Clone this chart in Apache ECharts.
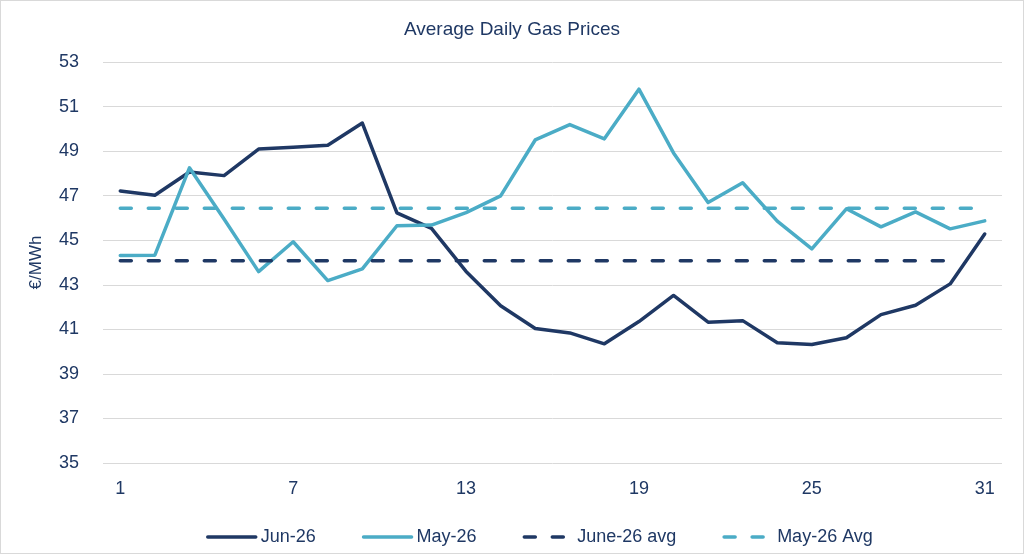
<!DOCTYPE html>
<html>
<head>
<meta charset="utf-8">
<script src="https://cdn.jsdelivr.net/npm/echarts@6/dist/echarts.min.js"></script>
<style>
html,body{margin:0;padding:0;background:#fff;}
#c{width:1024px;height:554px;box-sizing:border-box;border:1px solid #d9d9d9;}
</style>
</head>
<body>
<div id="c"></div>
<script>
// Category labels (trading days); only every 5th label is displayed
const days = ['1','2','3','4','5','7','8','9','10','11','13','14','15','16','17','19','20','21','22','23','25','26','27','28','29','31'];
const jun26 = [47.21,47.02,48.06,47.90,49.09,49.17,49.26,50.26,46.23,45.53,43.60,42.06,41.04,40.84,40.35,41.35,42.52,41.32,41.39,40.40,40.32,40.62,41.66,42.08,43.04,45.28];
const may26 = [44.31,44.33,48.25,45.95,43.59,44.93,43.19,43.71,45.65,45.68,46.24,46.99,49.50,50.19,49.55,51.78,48.92,46.69,47.58,45.86,44.61,46.41,45.60,46.27,45.51,45.87];
const jun26Avg = [44.08,44.08,44.08,44.08,44.08,44.08,44.08,44.08,44.08,44.08,44.08,44.08,44.08,44.08,44.08,44.08,44.08,44.08,44.08,44.08,44.08,44.08,44.08,44.08,44.08,null];
const may26Avg = [46.44,46.44,46.44,46.44,46.44,46.44,46.44,46.44,46.44,46.44,46.44,46.44,46.44,46.44,46.44,46.44,46.44,46.44,46.44,46.44,46.44,46.44,46.44,46.44,46.44,46.44];

const NAVY = '#1f3864';
const AQUA = '#4bacc6';
const TEXT = '#1f3864';
const FONT = '"Liberation Sans", Arial, sans-serif';

const chart = echarts.init(document.getElementById('c'), null, {renderer:'canvas'});
chart.setOption({
  animation:false,
  textStyle:{fontFamily:FONT,color:TEXT},
  title:{
    text:'Average Daily Gas Prices',
    left:'center',
    top:14,
    textStyle:{fontFamily:FONT,fontSize:19,fontWeight:'normal',color:TEXT}
  },
  grid:{left:102,right:21,top:61,bottom:90,containLabel:false},
  legend:{
    left:200,
    top:522,
    itemWidth:48,
    itemHeight:20,
    itemGap:46,
    itemStyle:{opacity:0},
    lineStyle:{width:3.5},
    textStyle:{fontFamily:FONT,fontSize:18,color:TEXT},
    data:['Jun-26','May-26','June-26 avg','May-26 Avg']
  },
  xAxis:{
    type:'category',
    data:days,
    boundaryGap:true,
    axisLine:{show:false},
    axisTick:{show:false},
    axisLabel:{interval:4,margin:17,fontSize:18,color:TEXT,fontFamily:FONT},
    splitLine:{show:false}
  },
  yAxis:{
    type:'value',
    min:35,max:53,interval:2,
    name:'€/MWh',
    nameLocation:'middle',
    nameGap:58,
    nameRotate:90,
    nameTextStyle:{fontSize:17,color:TEXT,fontFamily:FONT},
    axisLine:{show:false},
    axisTick:{show:false},
    axisLabel:{margin:24,fontSize:18,color:TEXT,fontFamily:FONT},
    splitLine:{lineStyle:{color:'#d9d9d9',width:1}}
  },
  series:[
    {name:'Jun-26',type:'line',data:jun26,symbol:'none',
      lineStyle:{color:NAVY,width:3.5,cap:'round',join:'round'},itemStyle:{color:NAVY}},
    {name:'May-26',type:'line',data:may26,symbol:'none',
      lineStyle:{color:AQUA,width:3.5,cap:'round',join:'round'},itemStyle:{color:AQUA}},
    {name:'June-26 avg',type:'line',data:jun26Avg,symbol:'none',
      lineStyle:{color:NAVY,width:3.5,type:[11,17],cap:'round'},itemStyle:{color:NAVY}},
    {name:'May-26 Avg',type:'line',data:may26Avg,symbol:'none',
      lineStyle:{color:AQUA,width:3.5,type:[11,17],cap:'round'},itemStyle:{color:AQUA}}
  ]
});
</script>
</body>
</html>
